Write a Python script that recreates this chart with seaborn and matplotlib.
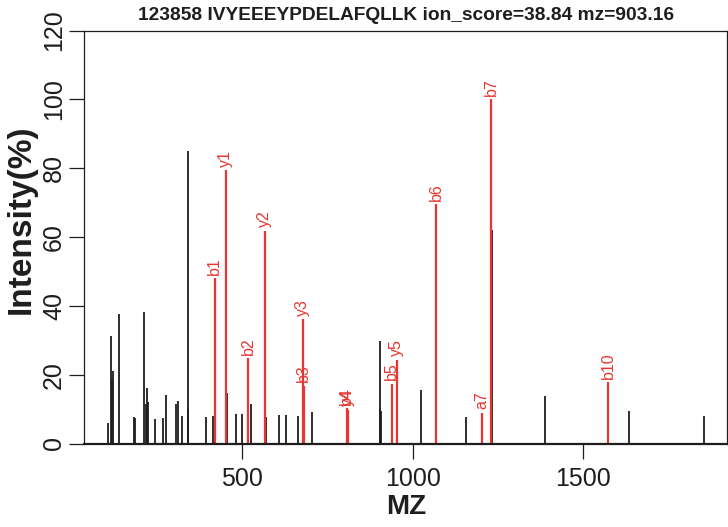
import numpy as np
import pandas as pd
import matplotlib
matplotlib.use("Agg")
import matplotlib.pyplot as plt
import seaborn as sns

# unmatched (black) peaks
black_mz = [105.4, 113.3, 117.0, 120.0, 136.7, 182.4, 186.5, 212.9, 217.6, 221.7,
            224.6, 244.0, 268.6, 275.3, 304.6, 312.6, 324.2, 340.5, 341.8, 394.5,
            413.9, 456.0, 482.4, 498.0, 515.5, 526.4, 570.3, 606.3, 626.9, 664.0,
            705.0, 902.5, 903.7, 905.0, 1023.0, 1068.2, 1156.0, 1230.8, 1387.7,
            1634.7, 1852.4]
black_int = [6.0, 31.3, 18.5, 21.2, 37.5, 7.7, 7.5, 38.1, 11.6, 16.0,
             12.0, 7.0, 7.5, 14.1, 11.6, 12.4, 8.1, 10.0, 85.0, 7.7,
             8.0, 14.7, 8.7, 8.7, 12.0, 11.4, 7.7, 8.3, 8.3, 8.1,
             9.1, 10.0, 29.9, 9.4, 15.5, 20.5, 7.7, 62.0, 13.7,
             9.5, 7.9]

# matched (red) fragment ions
ion_labels = ["b1", "y1", "b2", "y2", "y3", "b3", "b4", "y4", "b5", "y5",
              "b6", "a7", "b7", "b10"]
ion_mz = [418.8, 451.1, 517.6, 565.3, 677.5, 680.4, 806.0, 808.5, 938.3, 953.0,
          1067.8, 1202.0, 1230.4, 1572.3]
ion_int = [48.0, 79.4, 24.8, 61.8, 36.1, 16.8, 10.3, 9.8, 17.4, 24.3,
           69.6, 8.9, 100.0, 17.8]

title = "123858 IVYEEEYPDELAFQLLK ion_score=38.84 mz=903.16"

peaks = pd.DataFrame({"mz": black_mz, "intensity": black_int})
ions = pd.DataFrame({"label": ion_labels, "mz": ion_mz, "intensity": ion_int})

sns.set_style("ticks")
plt.rcParams["font.family"] = ["Liberation Sans", "DejaVu Sans"]

red = "#e8352f"
ink = "#1e1e1e"

fig = plt.figure(figsize=(7.28, 5.27), dpi=100)
ax = fig.add_axes([84 / 728, 1 - 443.5 / 527, 643.3 / 728, 413 / 527])

ax.vlines(peaks["mz"], 0, peaks["intensity"], color=ink, lw=1.3)
ax.vlines(ions["mz"], 0, ions["intensity"], color=red, lw=1.6)
for _, r in ions.iterrows():
    ax.text(r["mz"], r["intensity"] + 1.0, r["label"], color=red, fontsize=11.5,
            rotation=90, ha="center", va="bottom")

ax.set_xlim(35.5, 1922)
ax.set_ylim(0, 120)
ax.set_xticks([500, 1000, 1500])
ax.set_yticks([0, 20, 40, 60, 80, 100, 120])
ax.tick_params(axis="both", direction="out", length=11, width=0.9, colors=ink,
               labelsize=18)
ax.tick_params(axis="x", pad=6)
ax.tick_params(axis="y", pad=2, labelrotation=90)
for lab in ax.get_yticklabels():
    lab.set_va("center")
for side in ["left", "right", "top"]:
    ax.spines[side].set_linewidth(0.9)
    ax.spines[side].set_color(ink)
ax.spines["bottom"].set_linewidth(1.6)
ax.spines["bottom"].set_color(ink)
ax.grid(False)

fig.text(406 / 728, 1 - 15.5 / 527, title, ha="center", va="center",
         fontsize=13.8, fontweight="bold", color=ink)
fig.text(406 / 728, 1 - 507 / 527, "MZ", ha="center", va="center",
         fontsize=20, fontweight="bold", color=ink)
fig.text(21.7 / 728, 1 - 219 / 527, "Intensity(%)", ha="center", va="center",
         rotation=90, fontsize=24, fontweight="bold", color=ink)

fig.savefig("out.png", dpi=100)
